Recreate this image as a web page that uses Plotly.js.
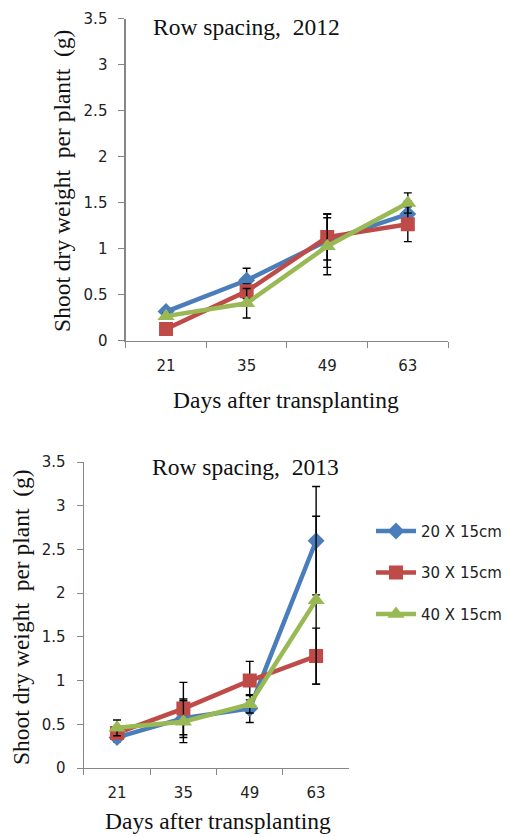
<!DOCTYPE html>
<html><head><meta charset="utf-8">
<script src="https://cdn.plot.ly/plotly-3.0.1.min.js"></script>
<style>html,body{margin:0;padding:0;background:#fff}#c{width:507px;height:837px}</style>
</head><body><div id="c"></div>
<script>
const days = ['21','35','49','63'];
const seriesNames = ['20 X 15cm','30 X 15cm','40 X 15cm'];
// 2012
const y2012_20 = [0.32, 0.66, 1.09, 1.38];
const e2012_20 = [0.04, 0.13, 0.29, 0.14];
const y2012_30 = [0.13, 0.54, 1.13, 1.27];
const e2012_30 = [0.03, 0.08, 0.25, 0.19];
const y2012_40 = [0.27, 0.41, 1.03, 1.50];
const e2012_40 = [0.03, 0.16, 0.31, 0.11];
// 2013
const y2013_20 = [0.35, 0.57, 0.68, 2.60];
const e2013_20 = [0.05, 0.22, 0.16, 0.62];
const y2013_30 = [0.40, 0.68, 1.00, 1.28];
const e2013_30 = [0.05, 0.30, 0.22, 0.32];
const y2013_40 = [0.46, 0.53, 0.73, 1.92];
const e2013_40 = [0.09, 0.24, 0.10, 0.96];

const colors = ['#4A7EBB','#BE4B48','#98B954'];
const symbols = ['diamond','square','triangle-up'];
const msizes = [13, 14, 15];

function tr(y, e, i, xa, ya, show){
  return {x: days, y: y, type:'scatter', mode:'lines+markers', name: seriesNames[i],
    xaxis: xa, yaxis: ya, showlegend: show, legendgroup: 'g'+i,
    line:{color:colors[i], width:4.5},
    marker:{symbol:symbols[i], size:msizes[i], color:colors[i]},
    error_y:{type:'data', array:e, visible:true, color:'#000', thickness:1.4, width:4}};
}
const data = [
  tr(y2012_20,e2012_20,0,'x','y',false),
  tr(y2012_30,e2012_30,1,'x','y',false),
  tr(y2012_40,e2012_40,2,'x','y',false),
  tr(y2013_20,e2013_20,0,'x2','y2',true),
  tr(y2013_30,e2013_30,1,'x2','y2',true),
  tr(y2013_40,e2013_40,2,'x2','y2',true)
];
const tickFont = {family:'DejaVu Sans, sans-serif', size:15, color:'#222'};
const serif = {family:'Liberation Serif, Times New Roman, serif', size:23.5, color:'#111'};
function xax(dom, anchor){
  return {domain:dom, anchor:anchor, type:'category', range:[-0.5,3.5], tickson:'boundaries',
    ticks:'outside', ticklen:6, tickcolor:'#868686', showline:true, linecolor:'#868686', linewidth:1.3,
    showgrid:false, zeroline:false, tickfont:tickFont, ticklabelstandoff:11, fixedrange:true};
}
function yax(dom, anchor){
  return {domain:dom, anchor:anchor, range:[0,3.5], dtick:0.5, ticks:'outside', ticklen:6,
    tickcolor:'#868686', showline:true, linecolor:'#868686', linewidth:1.3, showgrid:false,
    zeroline:false, tickfont:tickFont, ticklabelstandoff:8, fixedrange:true};
}
const layout = {
  width:507, height:837, margin:{l:0,r:0,t:0,b:0}, paper_bgcolor:'#fff', plot_bgcolor:'#fff',
  xaxis: xax([0.2485,0.8856],'y'),
  yaxis: yax([0.5926,0.9773],'x'),
  xaxis2: xax([0.1657,0.6903],'y2'),
  yaxis2: yax([0.0824,0.4480],'x2'),
  showlegend:true,
  legend:{x:0.733, y:0.385, xanchor:'left', yanchor:'top', font:{family:'DejaVu Sans, sans-serif', size:15, color:'#222'},
    tracegroupgap:19, itemwidth:40, bgcolor:'rgba(0,0,0,0)'},
  annotations:[
    {text:'Row spacing,&nbsp;&nbsp;2012', xref:'paper', yref:'paper', x:247/507, y:1-27/837, xanchor:'center', yanchor:'middle', showarrow:false, font:serif},
    {text:'Shoot dry weight&nbsp;&nbsp;per plantt&nbsp;&nbsp;(g)', xref:'paper', yref:'paper', x:62/507, y:1-181/837, textangle:-90, xanchor:'center', yanchor:'middle', showarrow:false, font:serif},
    {text:'Days after transplanting', xref:'paper', yref:'paper', x:287/507, y:1-400/837, xanchor:'center', yanchor:'middle', showarrow:false, font:serif},
    {text:'Row spacing,&nbsp;&nbsp;2013', xref:'paper', yref:'paper', x:246/507, y:1-467/837, xanchor:'center', yanchor:'middle', showarrow:false, font:serif},
    {text:'Shoot dry weight&nbsp;&nbsp;per plant&nbsp;&nbsp;(g)', xref:'paper', yref:'paper', x:21/507, y:1-617/837, textangle:-90, xanchor:'center', yanchor:'middle', showarrow:false, font:serif},
    {text:'Days after transplanting', xref:'paper', yref:'paper', x:218/507, y:1-821/837, xanchor:'center', yanchor:'middle', showarrow:false, font:serif}
  ]
};
Plotly.newPlot('c', data, layout, {staticPlot:true, displayModeBar:false});
</script></body></html>
